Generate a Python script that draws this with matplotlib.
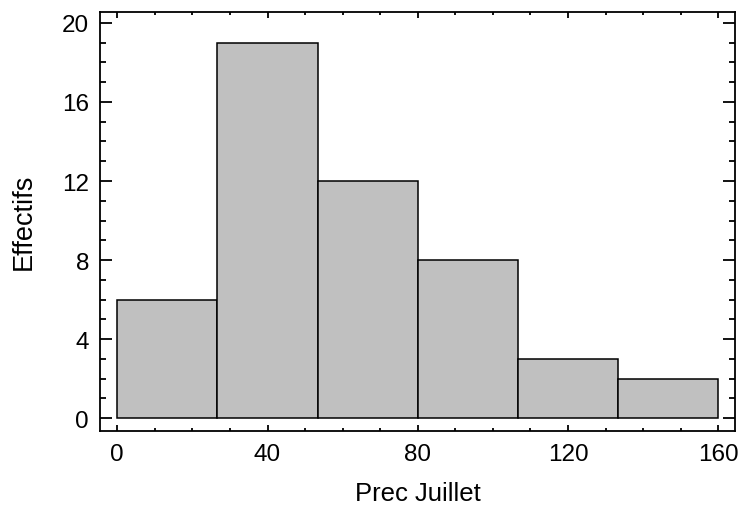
import numpy as np
import matplotlib
matplotlib.use('Agg')
import matplotlib.pyplot as plt
from matplotlib.ticker import MultipleLocator

# histogram data
bin_edges = np.linspace(0, 160, 7)
counts = [6, 19, 12, 8, 3, 2]
x_label = 'Prec Juillet'
y_label = 'Effectifs'

plt.rcParams['font.family'] = ['Liberation Sans', 'DejaVu Sans']
plt.rcParams['font.size'] = 17

fig = plt.figure(figsize=(7.41, 5.06), dpi=100)
ax = fig.add_axes([0.135, 0.147, 0.857, 0.828])

widths = np.diff(bin_edges)
ax.bar(bin_edges[:-1], counts, width=widths, align='edge',
       color='#c0c0c0', edgecolor='black', linewidth=1.1)

ax.set_xlim(-4.6, 164.5)
ax.set_ylim(-0.63, 20.57)

ax.xaxis.set_major_locator(MultipleLocator(40))
ax.xaxis.set_minor_locator(MultipleLocator(10))
ax.yaxis.set_major_locator(MultipleLocator(4))
ax.yaxis.set_minor_locator(MultipleLocator(1))

ax.tick_params(axis='both', which='both', direction='in',
               top=True, right=True, width=1.3, colors='black',
               labelsize=17.5)
ax.tick_params(axis='x', which='major', length=4.5, pad=9)
ax.tick_params(axis='x', which='minor', length=2.2)
ax.tick_params(axis='y', which='major', length=8.6, pad=8)
ax.tick_params(axis='y', which='minor', length=4.3)

for sp in ax.spines.values():
    sp.set_linewidth(1.3)

ax.set_xlabel(x_label, fontsize=18.5, va='center')
ax.set_ylabel(y_label, fontsize=19.5, va='center')
ax.xaxis.set_label_coords(0.5, -0.15)
ax.yaxis.set_label_coords(-0.12, 0.5)

fig.savefig('out.png', dpi=100)
